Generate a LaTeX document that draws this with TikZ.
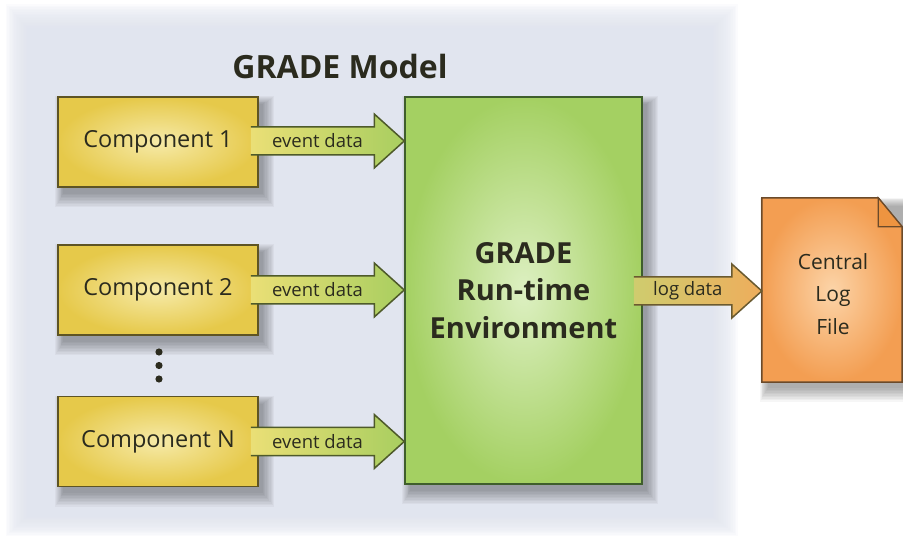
\documentclass[tikz,border=0pt]{standalone}
\usepackage{fontspec}
\setmainfont{Open Sans}
\usetikzlibrary{calc,backgrounds}
\definecolor{panelc}{HTML}{E1E5EF}
\definecolor{yelIn}{HTML}{F6EAA8}
\definecolor{yelOut}{HTML}{E6C94A}
\definecolor{yelB}{HTML}{5E5424}
\definecolor{grnIn}{HTML}{DDF0C2}
\definecolor{grnOut}{HTML}{A4D062}
\definecolor{grnB}{HTML}{3F5E2C}
\definecolor{orgIn}{HTML}{FCD4A8}
\definecolor{orgOut}{HTML}{F39E52}
\definecolor{orgFold}{HTML}{EE9440}
\definecolor{orgB}{HTML}{6B4A2A}
\definecolor{evL}{HTML}{EADF76}
\definecolor{evR}{HTML}{A8CE60}
\definecolor{evB}{HTML}{4E5A2A}
\definecolor{lgL}{HTML}{CFCC6E}
\definecolor{lgR}{HTML}{EEAD5C}
\definecolor{lgB}{HTML}{6A5A30}
\definecolor{txt}{HTML}{2B2B1E}
\newcommand\softshadow[1]{%
  \foreach \k in {0,...,9}{%
    \fill[black,opacity=0.035] ($(#1.north west)+(6-\k*0.9,8-\k*0.9)$) rectangle ($(#1.south east)+(4+\k*1.3,6+\k*1.5)$);}}
% #1 start coord, #2 tip coord, #3 label node name, #4 label, #5 left col, #6 right col, #7 border col
\newcommand\blockarrow[7]{%
  \path[left color=#5,right color=#6] ($(#1)+(0,-14)$) -- ($(#2)+(-30,-14)$) -- ($(#2)+(-30,-27)$) -- (#2) -- ($(#2)+(-30,27)$) -- ($(#2)+(-30,14)$) -- ($(#1)+(0,14)$) -- cycle;
  \draw[line width=1.5pt,draw=#7,line join=miter] ($(#1)+(0,-14)$) -- ($(#2)+(-30,-14)$) -- ($(#2)+(-30,-27)$) -- (#2) -- ($(#2)+(-30,27)$) -- ($(#2)+(-30,14)$) -- ($(#1)+(0,14)$);
  \node[lbl] (#3) at ($($(#1)!0.5!($(#2)+(-30,0)$)$)+(5,0)$) {#4};}
\begin{document}
\begin{tikzpicture}[x=1pt,y=-1pt,
  compbox/.style={rectangle,minimum width=200pt,minimum height=90pt,inner sep=0pt,draw=yelB,line width=1.5pt,inner color=yelIn,outer color=yelOut,font=\fontsize{23.5}{26}\selectfont,text=txt},
  grnbox/.style={rectangle,minimum width=237pt,minimum height=387pt,inner sep=0pt,draw=grnB,line width=1.5pt,inner color=grnIn,outer color=grnOut,font=\fontsize{29}{37.5}\selectfont\bfseries,text=txt,align=center},
  lbl/.style={inner sep=0pt,font=\fontsize{18.5}{20}\selectfont,text=txt},
  docbox/.style={rectangle,minimum width=140pt,minimum height=184pt,inner sep=0pt},
  ttl/.style={font=\fontsize{32}{36}\selectfont\bfseries,text=txt}]
\useasboundingbox (0,0) rectangle (903,537);

\node[ttl] (title) at (340,67) {GRADE Model};
\node[compbox] (c1) at (158,142) {Component 1};
\node[compbox] (c2) at (158,290) {Component 2};
\node[compbox] (cN) at (158,441.5) {Component N};
\node[grnbox] (g) at (523.5,290.5) {GRADE\\Run-time\\Environment};
\node[docbox] (logdoc) at (832,290) {};

\begin{scope}[on background layer]
  \fill[white] (0,0) rectangle (903,537);
  \foreach \k in {0,...,19}{\fill[panelc,opacity=0.12] (6+\k*1.4,4+\k*1.6) rectangle (738-\k*1.7,536-\k*1.3);}
  \softshadow{c1}\softshadow{c2}\softshadow{cN}\softshadow{g}\softshadow{logdoc}
\end{scope}

% document shape
\draw[line width=1.5pt,draw=orgB,inner color=orgIn,outer color=orgOut,line join=miter]
  (logdoc.north west) -- ($(logdoc.north east)+(-24,0)$) -- ($(logdoc.north east)+(0,29)$) -- (logdoc.south east) -- (logdoc.south west) -- cycle;
\draw[line width=1.2pt,draw=orgB,fill=orgFold,line join=miter]
  ($(logdoc.north east)+(-24,0)$) -- ($(logdoc.north east)+(-24,29)$) -- ($(logdoc.north east)+(0,29)$) -- cycle;
\node[font=\fontsize{21}{32.5}\selectfont,text=txt,align=center] (logtxt) at (833,294) {Central\\Log\\File};

% dots
\fill[txt] (159,352) circle (3.6pt);
\fill[txt] (159,365.5) circle (3.6pt);
\fill[txt] (159,379) circle (3.6pt);

% arrows
\coordinate (s1) at ($(c1.east)+(-8,-1)$);
\coordinate (t1) at (g.west |- s1);
\coordinate (s2) at ($(c2.east)+(-8,0)$);
\coordinate (t2) at (g.west |- s2);
\coordinate (sN) at ($(cN.east)+(-8,0)$);
\coordinate (tN) at (g.west |- sN);
\coordinate (sL) at ($(g.east |- logdoc.west)+(-9,1)$);
\coordinate (tL) at (logdoc.west |- sL);
\blockarrow{s1}{t1}{e1}{event data}{evL}{evR}{evB}
\blockarrow{s2}{t2}{e2}{event data}{evL}{evR}{evB}
\blockarrow{sN}{tN}{eN}{event data}{evL}{evR}{evB}
\blockarrow{sL}{tL}{ld}{log data}{lgL}{lgR}{lgB}
\end{tikzpicture}
\end{document}
